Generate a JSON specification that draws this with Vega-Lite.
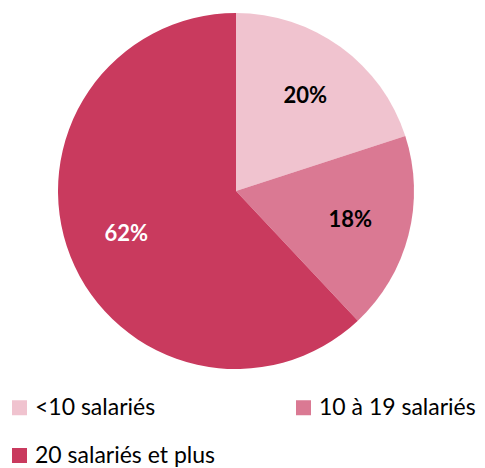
{
  "$schema": "https://vega.github.io/schema/vega-lite/v6.json",
  "width": 472,
  "height": 356,
  "autosize": "none",
  "padding": {"left": 0, "top": 13, "right": 13, "bottom": 99},
  "background": "white",
  "config": {"view": {"stroke": null}, "font": "Lato"},
  "data": {
    "values": [
      {"categorie": "<10 salariés", "part": 20, "ordre": 1, "etiquette": "20%"},
      {"categorie": "10 à 19 salariés", "part": 18, "ordre": 2, "etiquette": "18%"},
      {"categorie": "20 salariés et plus", "part": 62, "ordre": 3, "etiquette": "62%"}
    ]
  },
  "encoding": {
    "theta": {"field": "part", "type": "quantitative", "stack": true},
    "order": {"field": "ordre", "type": "quantitative"}
  },
  "layer": [
    {
      "mark": {"type": "arc", "outerRadius": 178},
      "encoding": {
        "color": {
          "field": "categorie",
          "type": "nominal",
          "sort": ["<10 salariés", "10 à 19 salariés", "20 salariés et plus"],
          "scale": {
            "domain": ["<10 salariés", "10 à 19 salariés", "20 salariés et plus"],
            "range": ["#f0c3cf", "#da7993", "#c93a5e"]
          },
          "legend": {
            "title": null,
            "orient": "none",
            "legendX": 8,
            "legendY": 383,
            "direction": "horizontal",
            "columns": 2,
            "columnPadding": 77,
            "rowPadding": 24,
            "symbolType": "square",
            "symbolSize": 225,
            "symbolStrokeWidth": 0,
            "labelFontSize": 23,
            "labelFont": "Lato",
            "labelColor": "#000000",
            "labelOffset": 4,
            "labelLimit": 300
          }
        }
      }
    },
    {
      "mark": {"type": "text", "radius": 118, "fontSize": 22, "fontWeight": "bold", "font": "Lato"},
      "encoding": {
        "text": {"field": "etiquette", "type": "nominal"},
        "color": {
          "condition": {"test": "datum.ordre === 3", "value": "#ffffff"},
          "value": "#000000"
        }
      }
    }
  ]
}
